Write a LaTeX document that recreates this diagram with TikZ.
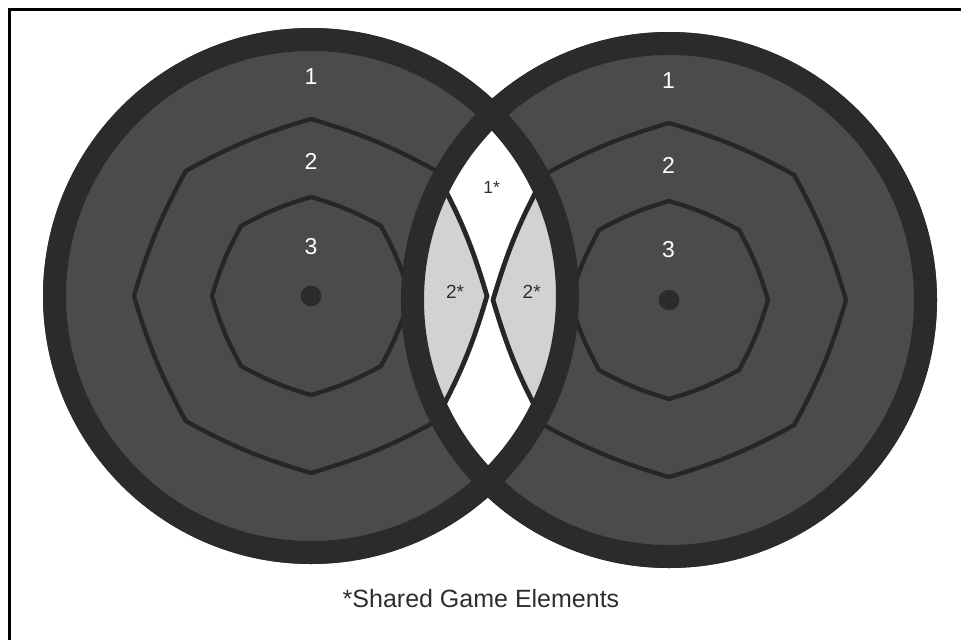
\documentclass[tikz,border=0pt]{standalone}
\usepackage{fontspec}
\setmainfont{Liberation Sans}
\definecolor{discgray}{HTML}{4B4B4B}
\definecolor{ringgray}{HTML}{2B2B2B}
\definecolor{linegray}{HTML}{262626}
\definecolor{lensgray}{HTML}{D2D2D2}
\definecolor{txtdark}{HTML}{2E2E2E}
\newcommand{\octshape}[1]{(0:#1) \foreach \a in {45,90,...,360} { to[bend left=6] (\a:#1) } -- cycle}
\tikzset{
  disc/.style={fill=discgray},
  ring/.style={draw=ringgray, line width=23pt},
  zone/.style={draw=linegray, line width=4.3pt, line join=round},
  lenszone/.style={draw=linegray, fill=lensgray, line width=4.8pt, line join=round},
  bigdigit/.style={text=white, font=\fontsize{23}{23}\selectfont, inner sep=0pt},
  lenslabel/.style={text=txtdark, font=\fontsize{19}{19}\selectfont, inner sep=0pt},
  centerdot/.style={fill=ringgray},
}
\begin{document}
\begin{tikzpicture}[x=1pt,y=-1pt]
\useasboundingbox (0,0) rectangle (961,640);
\draw[line width=2.3pt] (9.5,640) -- (9.5,9.5) -- (961,9.5);
\coordinate (L) at (311,296);
\coordinate (R) at (669,300);
% discs
\fill[disc] (L) circle (268);
\fill[disc] (R) circle (268);
% zone outlines
\begin{scope}[shift={(L)}]
  \draw[zone] \octshape{177};
  \draw[zone] \octshape{99};
\end{scope}
\begin{scope}[shift={(R)}]
  \draw[zone] \octshape{177};
  \draw[zone] \octshape{99};
\end{scope}
% lens (shared area)
\begin{scope}
  \clip (L) circle (256.5);
  \clip (R) circle (256.5);
  \fill[white] (L) circle (268);
  \begin{scope}[shift={(L)}]
    \path[lenszone] \octshape{176};
  \end{scope}
  \begin{scope}[shift={(R)}]
    \path[lenszone] \octshape{176};
  \end{scope}
\end{scope}
% rings
\draw[ring] (L) circle (256.5);
\draw[ring] (R) circle (256.5);
% centre dots
\fill[centerdot] (L) circle (10.3);
\fill[centerdot] (R) circle (10.3);
% labels
\node[bigdigit] (l1) at (311,76.7) {1};
\node[bigdigit] (l2) at (311,161.7) {2};
\node[bigdigit] (l3) at (311,246.7) {3};
\node[bigdigit] (r1) at (668.5,80.8) {1};
\node[bigdigit] (r2) at (668.5,165) {2};
\node[bigdigit] (r3) at (668.5,249.5) {3};
\node[lenslabel, font=\fontsize{17.5}{17.5}\selectfont] (s1) at (491.7,187.5) {1*};
\node[lenslabel] (s2l) at (455,291.7) {2*};
\node[lenslabel] (s2r) at (531.7,291.7) {2*};
\node[text=txtdark, font=\fontsize{25}{25}\selectfont, inner sep=0pt] (cap) at (481,599) {*Shared Game Elements};
\end{tikzpicture}
\end{document}
